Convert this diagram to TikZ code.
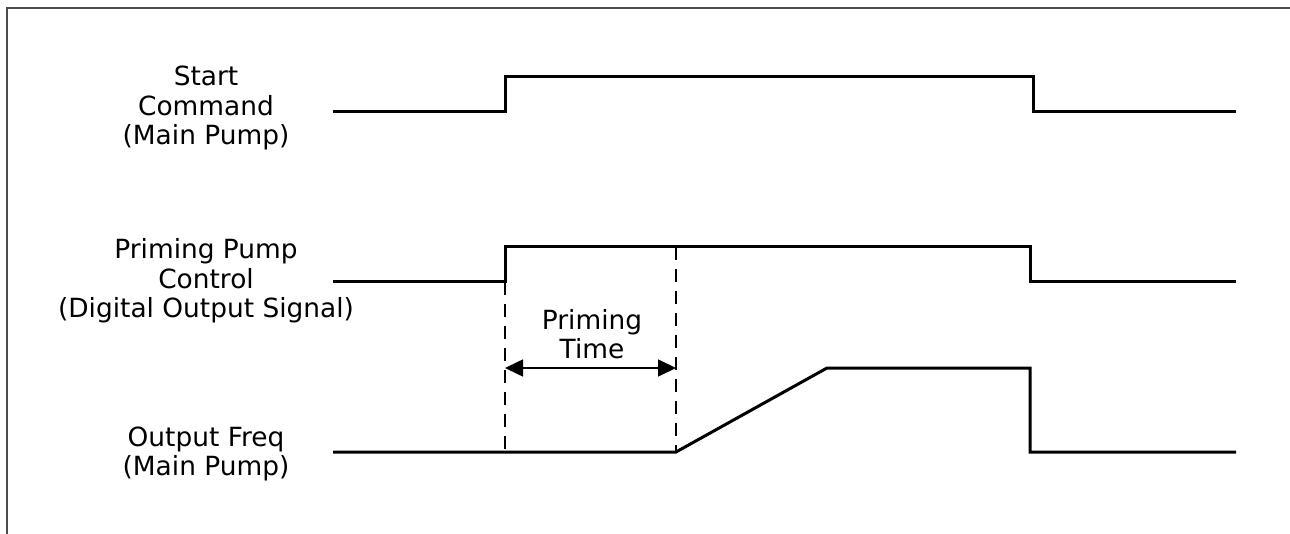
\documentclass[tikz,border=0pt]{standalone}
\usepackage{fontspec}
\setmainfont{DejaVu Sans}
\usetikzlibrary{arrows.meta}

\begin{document}
\begin{tikzpicture}[
  x=0.5pt, y=-0.5pt,
  sig/.style={line width=1.5pt, line join=miter},
  guide/.style={line width=0.9pt, dash pattern=on 6.5pt off 4.5pt},
  lbl/.style={align=center, inner sep=0pt,
              font=\fontsize{13.2}{14.7}\selectfont},
  span/.style={{Triangle[length=9pt,width=8.5pt]}-{Triangle[length=9pt,width=8.5pt]},
               line width=0.8pt}
]
\useasboundingbox (0,0) rectangle (1290,534);

%% Frame (only top and left edges show)
\draw[line width=1pt, black!70] (7,534) -- (7,8) -- (1290,8);

%% Signal labels
\node[lbl] (start) at (206,108) {Start\\Command\\(Main Pump)};
\node[lbl] (prime) at (206,281) {Priming Pump\\Control\\(Digital Output Signal)};
\node[lbl] (freq)  at (206,454) {Output Freq\\(Main Pump)};

%% Start command
\draw[sig] (333,112) -- (505,112) -- (505,77) -- (1033,77) -- (1033,112) -- (1236,112);

%% Priming pump control
\draw[sig] (333,282) -- (505,282) -- (505,247) -- (1030,247) -- (1030,282) -- (1236,282);

%% Output frequency
\coordinate (rampA) at (676,452);
\draw[sig] (333,452) -- (rampA) -- (827,368) -- (1030,368) -- (1030,452) -- (1236,452);

%% Priming time window
\coordinate (t0) at (505,282);
\coordinate (t1) at (676,247);
\draw[guide] (t0) -- (505,452);
\draw[guide] (t1) -- (rampA);
\coordinate (a0) at (505,368);
\coordinate (a1) at (676,368);
\draw[span] (a0) -- (a1);
\node[lbl] (ptime) at (592,334) {Priming\\Time};
\end{tikzpicture}
\end{document}
